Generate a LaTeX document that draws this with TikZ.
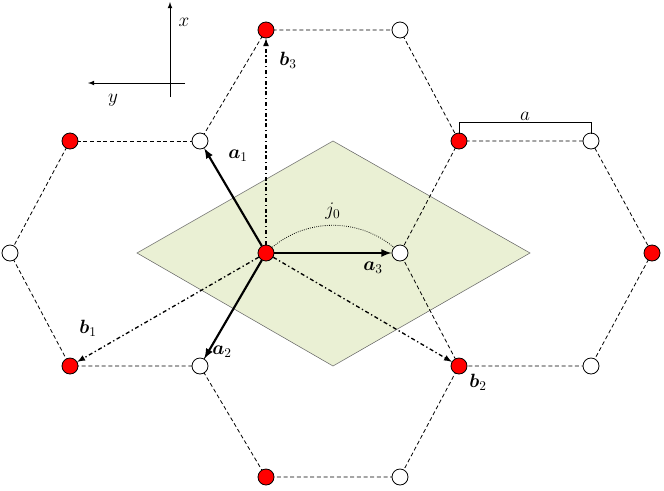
\documentclass[tikz,border=0pt]{standalone}
\usepackage{amsmath}
\usepackage{amssymb}
\usepackage{bm}
\usetikzlibrary{arrows,calc,positioning}
\definecolor{cellfill}{RGB}{234,240,212}

\begin{document}
\begin{tikzpicture}[x=0.75pt,y=-0.75pt]
	\tikzstyle{every node} = [inner sep = 1pt, font = \Large]
	\tikzstyle{bond} = [dashed, dash pattern = on 3pt off 2pt, semithick]
	\tikzstyle{siteA} = [circle, draw = black, fill = red, minimum size = 12pt, inner sep = 0pt, semithick]
	\tikzstyle{siteB} = [circle, draw = black, fill = white, minimum size = 12pt, inner sep = 0pt, semithick]
	\tikzstyle{avec} = [-latex, line width = 1.6pt]
	\tikzstyle{bvec} = [-latex, line width = 1pt, dash dot]
\useasboundingbox (0,0) rectangle (664,490);
% unit cell
\fill[cellfill, draw = black!60, thin] (137,253) -- (333,141) -- (530,253) -- (333,366) -- cycle;
% sites
\coordinate (A1) at (266,30);  \coordinate (B1) at (400,30);
\coordinate (A2) at (70,141);  \coordinate (B2) at (200,141);
\coordinate (A3) at (459,141); \coordinate (B3) at (591,141);
\coordinate (B4) at (10,253);  \coordinate (A4) at (266,253);
\coordinate (B5) at (400,253); \coordinate (A5) at (652,253);
\coordinate (A6) at (70,366);  \coordinate (B6) at (200,366);
\coordinate (A7) at (459,366); \coordinate (B7) at (591,366);
\coordinate (A8) at (266,477); \coordinate (B8) at (400,477);
% bonds
	\draw[bond] (A1) -- (B1) -- (A3) -- (B5);
	\draw[bond] (A1) -- (B2) -- (A4);
	\draw[bond] (A2) -- (B2);
	\draw[bond] (A3) -- (B3) -- (A5) -- (B7) -- (A7) -- (B5);
	\draw[bond] (A2) -- (B4) -- (A6) -- (B6) -- (A4);
	\draw[bond] (B6) -- (A8) -- (B8) -- (A7);
% hopping
	\draw[densely dotted, semithick] (A4) to[out=45, in=135] node[above = 3pt] {$j_0$} (B5);
% vectors
\foreach \s in {A1,A2,A3,A4,A5,A6,A7,A8} \node[siteA] (n\s) at (\s) {};
\foreach \s in {B1,B2,B3,B4,B5,B6,B7,B8} \node[siteB] (n\s) at (\s) {};
	\draw[bvec] (nA4) -- (nA1);
	\draw[bvec] (nA4) -- (nA6);
	\draw[bvec] (nA4) -- (nA7);
	\draw[avec] (nA4) -- (nB2);
	\draw[avec] (nA4) -- (nB6);
	\draw[avec] (nA4) -- (nB5);
\node at (238,156) {$\bm{a}_1$};
\node at (222,352) {$\bm{a}_2$};
\node at (373,268) {$\bm{a}_3$};
\node at (88,328) {$\bm{b}_1$};
\node at (478,382) {$\bm{b}_2$};
\node at (288,60) {$\bm{b}_3$};
% axes
\coordinate (O) at (170,97);
\coordinate (X) at (170,2);
\coordinate (Yo) at (185,83);
\coordinate (Y) at (88,83);
	\draw[-latex, semithick] (O) -- (X);
	\draw[-latex, semithick] (Yo) -- (Y);
\node at (184,22) {$x$};
\node at (113,100) {$y$};
% lattice constant
\coordinate (L) at (459,122);
\coordinate (R) at (591,122);
	\draw (L) -- node[above] {$a$} (R);
	\draw (L) -- ++(0,12);
	\draw (R) -- ++(0,12);
    \end{tikzpicture}
\end{document}
